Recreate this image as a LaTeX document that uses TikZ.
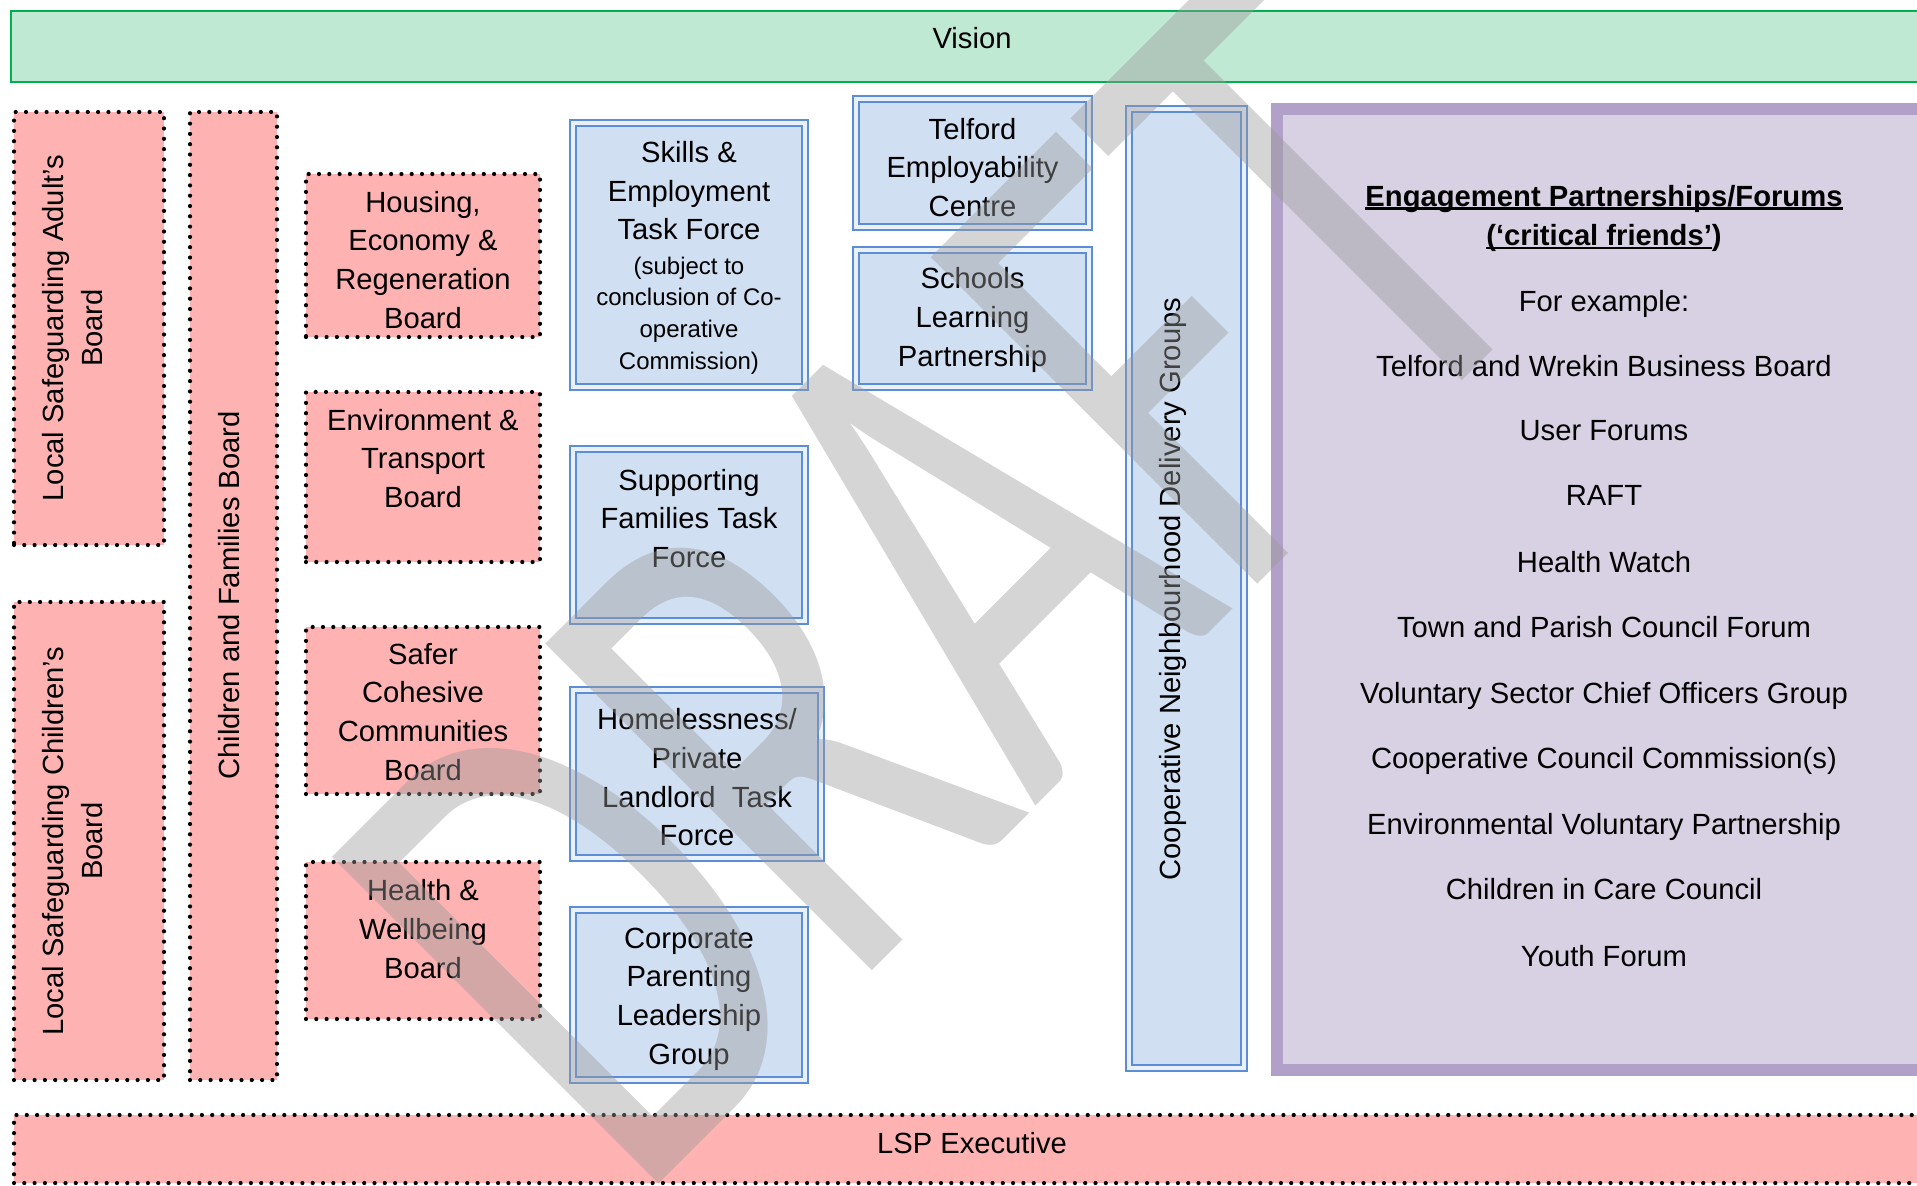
\documentclass[tikz,border=0pt]{standalone}
\usepackage{fontspec}
\setmainfont{Liberation Sans}
\newfontfamily\wmfont{Carlito}
\definecolor{pinkfill}{HTML}{FFB2B2}
\definecolor{bluefill}{HTML}{D1DFF2}
\definecolor{blueline}{HTML}{5B8ED6}
\definecolor{bluegap}{HTML}{E9F0FA}
\definecolor{greenfill}{HTML}{C0E9D3}
\definecolor{greenline}{HTML}{00B050}
\definecolor{purpfill}{HTML}{D8D0E3}
\definecolor{purpline}{HTML}{B1A0C7}
\definecolor{wmgray}{HTML}{9A9A9A}
\newcommand\myul[1]{\setbox0\hbox{#1}\rlap{\rule[-3.4pt]{\wd0}{2.1pt}}\box0}
\begin{document}
\begin{tikzpicture}[x=1pt,y=-1pt,
  every node/.style={inner sep=0pt, outer sep=0pt},
  txt/.style={font=\fontsize{29.2}{38.7}\selectfont, align=center, text=black},
  smalltxt/.style={font=\fontsize{24}{31.8}\selectfont, align=center, text=black},
  pinkbox/.style={rectangle, fill=pinkfill, draw=black, line width=4.2pt, line cap=round, dash pattern=on 0pt off 10.3pt},
  bluebox/.style={rectangle, fill=bluefill, draw=blueline, line width=2.4pt, double=bluegap, double distance=3.6pt},
  greenbox/.style={rectangle, fill=greenfill, draw=greenline, line width=2.5pt},
  purpbox/.style={rectangle, fill=purpfill, draw=purpline, line width=12pt},
  wm/.style={font=\wmfont\fontsize{720}{800}\selectfont, text=wmgray, text opacity=0.42}
]
\useasboundingbox (0,0) rectangle (1917,1186);
\clip (0,0) rectangle (1917,1186);

% top and bottom bars
\node[greenbox, minimum width=1950, minimum height=71] (vision) at (986,46.5) {};
\node[txt] (visiont) at (972,38) {Vision};
\node[pinkbox, minimum width=1950, minimum height=68] (lsp) at (989,1149) {};
\node[txt] (lspt) at (972,1143) {LSP Executive};

% left vertical boards
\node[pinkbox, minimum width=150, minimum height=433] (lsab) at (89,328.5) {};
\node[txt, rotate=90] (lsabt) at (72.7,328) {Local Safeguarding Adult’s\\Board};
\node[pinkbox, minimum width=150, minimum height=478] (lscb) at (89,841) {};
\node[txt, rotate=90] (lscbt) at (72.7,841) {Local Safeguarding Children’s\\Board};
\node[pinkbox, minimum width=87, minimum height=968] (cfb) at (233.5,596) {};
\node[txt, rotate=90] (cfbt) at (229,595.4) {Children and Families Board};

% boards column
\node[pinkbox, minimum width=234, minimum height=163] (hous) at (423,255.5) {};
\node[txt] (houst) at (423,259.8) {Housing,\\Economy \&\\Regeneration\\Board};
\node[pinkbox, minimum width=234, minimum height=170] (env) at (423,477) {};
\node[txt] (envt) at (423,458.5) {Environment \&\\Transport\\Board};
\node[pinkbox, minimum width=234, minimum height=167] (safer) at (423,710.5) {};
\node[txt] (safert) at (423,711.9) {Safer\\Cohesive\\Communities\\Board};
\node[pinkbox, minimum width=234, minimum height=157] (health) at (423,940.5) {};
\node[txt] (healtht) at (423,929.2) {Health \&\\Wellbeing\\Board};

% task forces column
\node[bluebox, minimum width=231.6, minimum height=263.6] (skills) at (689,255) {};
\node[txt] (skillst) at (689,190.7) {Skills \&\\Employment\\Task Force};
\node[smalltxt] (skillss) at (689,315.5) {(subject to\\conclusion of Co-\\operative\\Commission)};
\node[bluebox, minimum width=231.6, minimum height=171.6] (supp) at (689,535) {};
\node[txt] (suppt) at (689,518.4) {Supporting\\Families Task\\Force};
\node[bluebox, minimum width=247.6, minimum height=167.6] (home) at (697,774) {};
\node[txt] (homet) at (697,777.3) {Homelessness/\\Private\\Landlord\ \ Task\\Force};
\node[bluebox, minimum width=231.6, minimum height=169.6] (corp) at (689,995) {};
\node[txt] (corpt) at (689,999) {Corporate\\Parenting\\Leadership\\Group};

% telford / schools
\node[bluebox, minimum width=232.6, minimum height=127.6] (telf) at (972.5,163) {};
\node[txt] (telft) at (972.5,167.5) {Telford\\Employability\\Centre};
\node[bluebox, minimum width=232.6, minimum height=136.6] (sch) at (972.5,318.5) {};
\node[txt] (scht) at (972.5,320) {Schools\\Learning\\Partnership};

% cooperative groups
\node[bluebox, minimum width=114.6, minimum height=958.6] (coop) at (1186.5,588.5) {};
\node[txt, rotate=90] (coopt) at (1173,589) {Cooperative Neighbourhood Delivery Groups};

% engagement box
\node[purpbox, minimum width=703, minimum height=961] (eng) at (1628.5,589.5) {};
\node[txt, font=\fontsize{29.2}{38.7}\selectfont\bfseries, anchor=base] (e1) at (1604,206.1) {\myul{Engagement Partnerships/Forums}};
\node[txt, font=\fontsize{29.2}{38.7}\selectfont\bfseries, anchor=base] (e2) at (1604,245.2) {\myul{(‘critical friends’})};
\node[txt, anchor=base] (e3) at (1604,311.3) {For example:};
\node[txt, anchor=base] (e4) at (1604,376.1) {Telford and Wrekin Business Board};
\node[txt, anchor=base] (e5) at (1604,440.9) {User Forums};
\node[txt, anchor=base] (e6) at (1604,505.7) {RAFT};
\node[txt, anchor=base] (e7) at (1604,572.9) {Health Watch};
\node[txt, anchor=base] (e8) at (1604,637.7) {Town and Parish Council Forum};
\node[txt, anchor=base] (e9) at (1604,703.7) {Voluntary Sector Chief Officers Group};
\node[txt, anchor=base] (e10) at (1604,768.5) {Cooperative Council Commission(s)};
\node[txt, anchor=base] (e11) at (1604,834.5) {Environmental Voluntary Partnership};
\node[txt, anchor=base] (e12) at (1604,899.3) {Children in Care Council};
\node[txt, anchor=base] (e13) at (1604,966.6) {Youth Forum};

% watermark
\node[wm, rotate=45, xscale=0.678] (draft) at (935,581) {DRAFT};
\end{tikzpicture}
\end{document}
